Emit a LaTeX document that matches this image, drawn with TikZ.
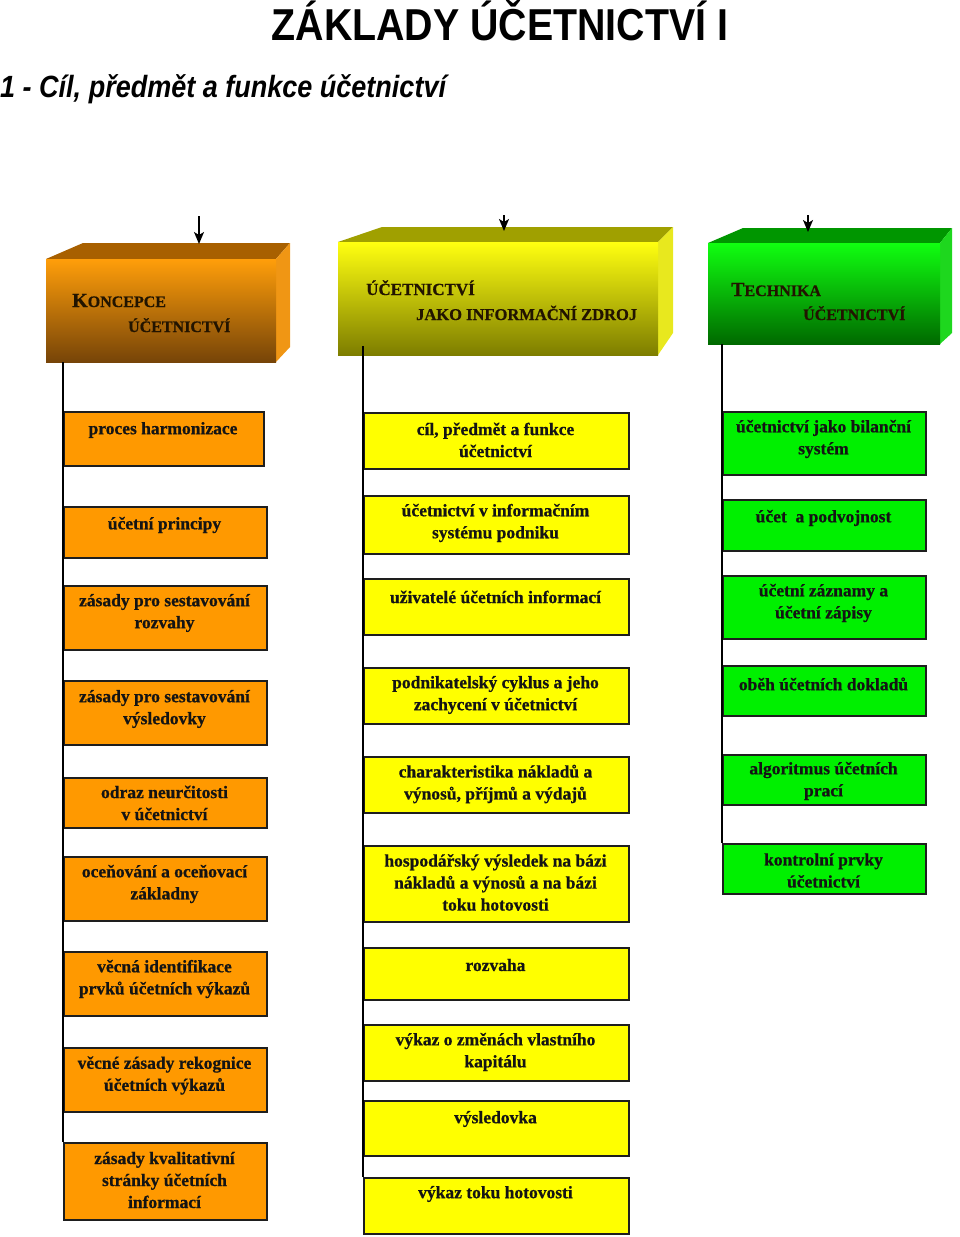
\documentclass[tikz,border=0pt]{standalone}
\usepackage{fontspec}
\setmainfont{Liberation Serif}[BoldFeatures={FakeBold=0.7}]
\newfontfamily\titlefont[FakeStretch=0.88]{Liberation Sans}
\usetikzlibrary{arrows.meta}
\definecolor{obox}{HTML}{FF9900}
\definecolor{ybox}{HTML}{FFFF00}
\definecolor{gbox}{HTML}{00F000}
\definecolor{boxline}{HTML}{1E1E1E}
\definecolor{txtc}{HTML}{141414}
\definecolor{htxt}{HTML}{221400}
\newcommand{\cbox}[8]{%
  \node[#2, minimum width={(#5-#3)*1pt}, minimum height={(#6-#4)*1pt}] (#1) at (#3,#4) {};
  \node[txt] at ({(#3+#5)/2},#7) {#8};}
\begin{document}
\begin{tikzpicture}[x=1pt,y=-1pt,
  box/.style={draw=boxline, line width=1.5pt, anchor=north west, inner sep=0pt},
  ob/.style={box, fill=obox},
  yb/.style={box, fill=ybox},
  gb/.style={box, fill=gbox},
  txt/.style={font=\fontsize{17.5}{22}\selectfont\bfseries, align=center, text=txtc, inner sep=0pt},
  htx/.style={font=\bfseries, text=htxt, inner sep=0pt, anchor=base west},
  conn/.style={draw=black, line width=1.4pt},
  arr/.style={draw=black, line width=1.5pt, -{Stealth[length=12pt,width=10pt,inset=3pt]}},
  front/.style={anchor=north west, inner sep=0pt}]
\useasboundingbox (0,0) rectangle (960,1237);

% titles
\node[anchor=base, inner sep=0pt] (title) at (500,40) {\titlefont\bfseries\fontsize{44.7}{50}\selectfont ZÁKLADY ÚČETNICTVÍ I};
\node[anchor=base west, inner sep=0pt] (subtitle) at (0,97) {\titlefont\bfseries\itshape\fontsize{30.7}{34}\selectfont 1 - Cíl, předmět a funkce účetnictví};

% ---------- header 1 (orange)
\fill[fill={rgb,255:red,168;green,96;blue,0}] (46,259) -- (83,243) -- (290,243) -- (276,259) -- cycle;
\fill[fill={rgb,255:red,240;green,150;blue,20}] (276,259) -- (290,243) -- (290,347) -- (276,362) -- cycle;
\node[front, minimum width=230pt, minimum height=103pt, top color={rgb,255:red,255;green,158;blue,10}, middle color={rgb,255:red,215;green,125;blue,12}, bottom color={rgb,255:red,118;green,68;blue,8}] (K) at (46,259) {};
\node[htx] (Kt1) at (72,307) {\fontsize{20}{20}\selectfont K\fontsize{16}{16}\selectfont ONCEPCE};
\node[htx] (Kt2) at (128,332) {\fontsize{16}{16}\selectfont ÚČETNICTVÍ};
\coordinate (Kin) at (199,216);
\coordinate (Ktop) at (199,244);
\draw[arr] (Kin) -- (Ktop);

% ---------- header 2 (yellow)
\fill[fill={rgb,255:red,160;green,160;blue,0}] (338,242) -- (382,227) -- (673,227) -- (658,242) -- cycle;
\fill[fill={rgb,255:red,232;green,232;blue,30}] (658,242) -- (673,227) -- (673,333) -- (658,355) -- cycle;
\node[front, minimum width=320pt, minimum height=113pt, top color={rgb,255:red,255;green,255;blue,16}, middle color={rgb,255:red,210;green,210;blue,0}, bottom color={rgb,255:red,125;green,125;blue,0}] (U) at (338,242) {};
\node[htx] (Ut1) at (366,295) {\fontsize{17}{17}\selectfont ÚČETNICTVÍ};
\node[htx] (Ut2) at (416,320) {\fontsize{16.5}{16.5}\selectfont JAKO INFORMAČNÍ ZDROJ};
\coordinate (Uin) at (504,215);
\coordinate (Utop) at (504,231);
\draw[arr] (Uin) -- (Utop);

% ---------- header 3 (green)
\fill[fill={rgb,255:red,0;green,150;blue,0}] (708,243) -- (743,228) -- (952,228) -- (940,243) -- cycle;
\fill[fill={rgb,255:red,30;green,215;blue,30}] (940,243) -- (952,228) -- (952,333) -- (940,344) -- cycle;
\node[front, minimum width=232pt, minimum height=101pt, top color={rgb,255:red,16;green,255;blue,16}, middle color={rgb,255:red,0;green,190;blue,0}, bottom color={rgb,255:red,0;green,105;blue,0}] (T) at (708,243) {};
\node[htx] (Tt1) at (731,296) {\fontsize{20}{20}\selectfont T\fontsize{16}{16}\selectfont ECHNIKA};
\node[htx] (Tt2) at (803,320) {\fontsize{16}{16}\selectfont ÚČETNICTVÍ};
\coordinate (Tin) at (808,215);
\coordinate (Ttop) at (808,232);
\draw[arr] (Tin) -- (Ttop);

% ---------- orange column
\cbox{o1}{ob}{63}{411}{263}{465}{430}{proces harmonizace}
\cbox{o2}{ob}{63}{506}{266}{557}{525}{účetní principy}
\cbox{o3}{ob}{63}{585}{266}{649}{613}{zásady pro sestavování\\rozvahy}
\cbox{o4}{ob}{63}{680}{266}{744}{709}{zásady pro sestavování\\výsledovky}
\cbox{o5}{ob}{63}{777}{266}{827}{803}{odraz neurčitosti\\v účetnictví}
\cbox{o6}{ob}{63}{856}{266}{920}{884}{oceňování a oceňovací\\základny}
\cbox{o7}{ob}{63}{951}{266}{1015}{979}{věcná identifikace\\prvků účetních výkazů}
\cbox{o8}{ob}{63}{1047}{266}{1111}{1075.5}{věcné zásady rekognice\\účetních výkazů}
\cbox{o9}{ob}{63}{1142}{266}{1219}{1180}{zásady kvalitativní\\stránky účetních\\informací}
\coordinate (Kb) at (63,362);
\draw[conn] (Kb) -- (o9.north west);

% ---------- yellow column
\cbox{y1}{yb}{363}{412}{628}{468}{440}{cíl, předmět a funkce\\účetnictví}
\cbox{y2}{yb}{363}{495}{628}{553}{523}{účetnictví v informačním\\systému podniku}
\cbox{y3}{yb}{363}{578}{628}{634}{597}{uživatelé účetních informací}
\cbox{y4}{yb}{363}{667}{628}{723}{695}{podnikatelský cyklus a jeho\\zachycení v účetnictví}
\cbox{y5}{yb}{363}{756}{628}{812}{784}{charakteristika nákladů a\\výnosů, příjmů a výdajů}
\cbox{y6}{yb}{363}{845}{628}{921}{882.5}{hospodářský výsledek na bázi\\nákladů a výnosů a na bázi\\toku hotovosti}
\cbox{y7}{yb}{363}{947}{628}{999}{965}{rozvaha}
\cbox{y8}{yb}{363}{1024}{628}{1080}{1052}{výkaz o změnách vlastního\\kapitálu}
\cbox{y9}{yb}{363}{1100}{628}{1155}{1119}{výsledovka}
\cbox{y10}{yb}{363}{1177}{628}{1233}{1194}{výkaz toku hotovosti}
\coordinate (Ub) at (363,346);
\draw[conn] (Ub) -- (y10.north west);

% ---------- green column
\cbox{g1}{gb}{722}{411}{925}{474}{439}{účetnictví jako bilanční\\systém}
\cbox{g2}{gb}{722}{499}{925}{550}{518}{účet\ \ a podvojnost}
\cbox{g3}{gb}{722}{575}{925}{638}{603}{účetní záznamy a\\účetní zápisy}
\cbox{g4}{gb}{722}{665}{925}{715}{684}{oběh účetních dokladů}
\cbox{g5}{gb}{722}{754}{925}{804}{781}{algoritmus účetních\\prací}
\cbox{g6}{gb}{722}{843}{925}{893}{870.5}{kontrolní prvky\\účetnictví}
\coordinate (Tb) at (722,344);
\draw[conn] (Tb) -- (g6.north west);
\end{tikzpicture}
\end{document}
